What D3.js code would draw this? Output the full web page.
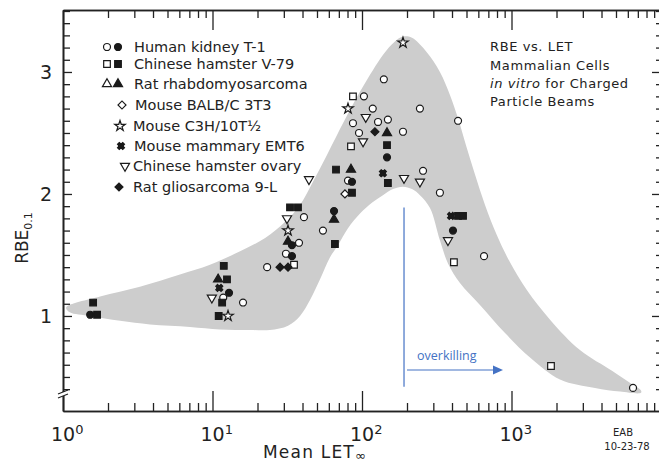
<!DOCTYPE html>
<html>
<head>
<meta charset="utf-8">
<script src="https://cdn.jsdelivr.net/npm/d3@7"></script>
<style>
  body { margin: 0; background: #fff; }
  svg { display: block; font-family: "DejaVu Sans", sans-serif; }
</style>
</head>
<body>
<script>
const W = 659;
const H = 463;
const Lpad = 63;
const Rpad = 661;
const Tpad = 10;
const Bpad = 411;

// shaded envelope, LET vs RBE
const bandUpper = [[1.05,1.07],[1.77,1.16],[3.27,1.24],[6.06,1.34],[9.62,1.42],[15.3,1.53],[22.5,1.64],[30.5,1.77],[38.5,1.91],[47,2.10],[58.3,2.32],[76.9,2.61],[101.6,2.88],[138,3.14],[166,3.25],[188,3.29],[216,3.28],[272,3.16],[332,3.0],[388,2.81],[439,2.62],[496,2.40],[570,2.16],[665,1.91],[800,1.66],[977,1.44],[1270,1.21],[1811,0.97],[2870,0.72],[4700,0.55],[6400,0.44],[7350,0.39]];
const bandLower = [[7350,0.37],[5320,0.38],[3620,0.41],[2110,0.48],[1330,0.66],[905,0.86],[615,1.09],[452,1.27],[376,1.43],[332,1.62],[285,1.885],[244,1.99],[216,2.04],[188,2.06],[161,2.04],[138,1.99],[117,1.93],[97,1.84],[80.6,1.72],[69,1.58],[61,1.48],[52.4,1.30],[44.9,1.13],[38.5,1.0],[32,0.92],[24.2,0.885],[17.8,0.885],[11.2,0.89],[7.07,0.91],[3.82,0.93],[2.41,0.96],[1.52,1.0],[1.11,1.03]];

const kidneyOpen = [[11.8,1.15],[16.0,1.11],[40.9,1.81],[54.8,1.70],[37.9,1.60],[31.0,1.51],[23.2,1.40],[140,2.94],[103,2.80],[118,2.70],[244,2.70],[439,2.60],[87,2.58],[128,2.59],[149,2.61],[188,2.51],[95.5,2.50],[80.6,2.11],[256,2.19],[332,2.01],[655,1.49],[6500,0.41]];
const kidneyFilled = [[1.52,1.01],[12.9,1.19],[34.0,1.58],[34.0,1.49],[65,1.86],[147,2.30],[85.7,2.10],[406,1.70]];
const v79Open = [[87,2.80],[84.4,2.39],[35.1,1.42],[412,1.44],[1837,0.59]];
const v79Filled = [[1.59,1.11],[1.69,1.01],[11.9,1.41],[12.5,1.30],[11.6,1.11],[11.0,1.00],[33.0,1.89],[37.3,1.89],[67,2.20],[147,2.40],[149,2.09],[85.7,2.01],[439,1.82],[474,1.82],[65.9,1.59]];
const rhabdoFilled = [[10.9,1.30],[32.0,1.61],[147,2.50],[84.4,2.20],[65,1.79]];
const balbOpen = [[76.9,2.00]];
const c3hOpen = [[12.7,1.00],[32.0,1.70],[80.6,2.70],[188,3.24]];
const emt6 = [[11.1,1.23],[138,2.17],[394,1.82]];
const choOpen = [[9.9,1.15],[31.5,1.80],[106,2.63],[101.6,2.43],[44.2,2.12],[191,2.13],[244,2.10],[376,1.62]];
const gliosarcoma = [[28.3,1.40],[32.0,1.40],[122,2.51]];

const legendLabels = ["Human kidney T-1", "Chinese hamster V-79", "Rat rhabdomyosarcoma", "Mouse BALB/C 3T3", "Mouse C3H/10T", "Mouse mammary EMT6", "Chinese hamster ovary", "Rat gliosarcoma 9-L"];
const titleLines = ["RBE vs. LET", "Mammalian Cells", "for Charged", "Particle Beams"];

const xMajor = [1, 10, 100, 1000];
const xMinor = [2,3,4,5,6,7,8,9,20,30,40,50,60,70,80,90,200,300,400,500,600,700,800,900,2000,3000,4000,5000,6000,7000,8000,9000];
const yMajor = [1, 2, 3];
const yMinor = d3.range(4, 36).map(d => d / 10).filter(d => d % 1 !== 0);

// overkilling marker: LET of line, RBE span, arrow end LET, arrow RBE
const overkillLET = 191;
const overkillRBE = [1.89, 0.42];
const arrowEnd = 877;
const arrowRBE = 0.557;

const svg = d3.select("body")
  .append("svg")
  .attr("width", W)
  .attr("height", H);

const x = d3.scaleLog().domain([1, 1e4]).range([Lpad, Rpad]);
const y = d3.scaleLinear().domain([0.221, 3.508]).range([Bpad, Tpad]);

const band = bandUpper.concat(bandLower);
svg.append("path")
  .datum(band)
  .attr("d", d3.line().x(d => x(d[0])).y(d => y(d[1])).curve(d3.curveCatmullRomClosed.alpha(0.5)))
  .attr("fill", "#cdcdcd")
  .attr("stroke", "none");

// axes on all four sides, ticks pointing in
function tickAxis(axis, vals, size, tr) {
  const g = svg.append("g")
    .attr("transform", tr)
    .call(axis.tickValues(vals).tickSize(size).tickSizeOuter(0).tickFormat(""));
  g.selectAll("line").attr("stroke", "#222").attr("stroke-width", 1.3);
  g.select(".domain").attr("stroke", "#222").attr("stroke-width", 1.6);
  return g;
}
tickAxis(d3.axisBottom(x), xMinor, -8, `translate(0,${Bpad})`);
tickAxis(d3.axisBottom(x), xMajor, -20, `translate(0,${Bpad})`);
tickAxis(d3.axisTop(x), xMinor, -8, `translate(0,${Tpad})`);
tickAxis(d3.axisTop(x), xMajor, -20, `translate(0,${Tpad})`);
tickAxis(d3.axisLeft(y), yMinor, -7, `translate(${Lpad},0)`);
tickAxis(d3.axisLeft(y), yMajor, -9, `translate(${Lpad},0)`);
tickAxis(d3.axisRight(y), yMinor, -5, `translate(${Rpad},0)`);
tickAxis(d3.axisRight(y), yMajor, -9, `translate(${Rpad},0)`);

// axis break
svg.append("rect").attr("x", Lpad - 2).attr("y", 392).attr("width", 4).attr("height", 4).attr("fill", "#fff");
svg.append("path")
  .attr("d", `M${Lpad-5},${394}L${Lpad+5},${390}M${Lpad-5},${398}L${Lpad+5},${394}`)
  .attr("stroke", "#222").attr("stroke-width", 1.3).attr("fill", "none");

// tick labels
const xl = svg.append("g");
xMajor.forEach((v, i) => {
  const t = xl.append("text")
    .attr("x", x(v) - 12)
    .attr("y", 441)
    .style("font-size", "19px")
    .attr("fill", "#222");
  t.append("tspan").text("10");
  t.append("tspan").attr("dy", -7).style("font-size", "13px").text(String(i));
});

svg.selectAll(".ylab")
  .data(yMajor)
  .enter()
  .append("text")
  .attr("x", 46)
  .attr("y", d => y(d) + 7)
  .attr("text-anchor", "middle")
  .style("font-size", "19px")
  .attr("fill", "#222")
  .text(d => d);

const yTitle = svg.append("text")
  .attr("transform", "translate(28,238) rotate(-90)")
  .attr("text-anchor", "middle")
  .style("font-size", "17px")
  .attr("fill", "#222");
yTitle.append("tspan").text("RBE");
yTitle.append("tspan").attr("dy", 4).style("font-size", "11px").text("0.1");

const xTitle = svg.append("text")
  .attr("x", 263)
  .attr("y", 458)
  .style("font-size", "17px")
  .style("letter-spacing", "1.2px")
  .attr("fill", "#222");
xTitle.append("tspan").text("Mean  LET");
xTitle.append("tspan").attr("dy", 2).style("font-size", "13px").text("\u221E");

svg.append("text").attr("x", 623).attr("y", 436).attr("text-anchor", "middle")
  .style("font-size", "10px").attr("fill", "#222").text("EAB");
svg.append("text").attr("x", 627).attr("y", 450).attr("text-anchor", "middle")
  .style("font-size", "10px").attr("fill", "#222").text("10-23-78");

// title block
const tb = svg.append("g").style("font-size", "13px").style("letter-spacing", "0.6px").attr("fill", "#222");
tb.append("text").attr("x", 490).attr("y", 51).text(titleLines[0]);
tb.append("text").attr("x", 490).attr("y", 70).text(titleLines[1]);
const t3 = tb.append("text").attr("x", 490).attr("y", 88);
t3.append("tspan").style("font-style", "italic").text("in vitro ");
t3.append("tspan").text(titleLines[2]);
tb.append("text").attr("x", 490).attr("y", 106).text(titleLines[3]);

// symbols
function sym(type, size, rot) {
  return {type: type, size: size, rot: rot || 0};
}
const S = {
  circle: sym(d3.symbolCircle, 38),
  square: sym(d3.symbolSquare, 44),
  tri: sym(d3.symbolTriangle, 36),
  down: sym(d3.symbolTriangle, 36, 180),
  diamond: sym(d3.symbolSquare, 32, 45),
  star: sym(d3.symbolStar, 34),
};

function drawSym(g, data, s, filled) {
  g.selectAll(null)
    .data(data)
    .enter()
    .append("path")
    .attr("transform", d => `translate(${d[0]},${d[1]}) rotate(${s.rot})`)
    .attr("d", d3.symbol().type(s.type).size(s.size))
    .attr("fill", filled ? "#1a1a1a" : "#fff")
    .attr("stroke", "#1a1a1a")
    .attr("stroke-width", 1.2);
}
function drawEmt6(g, data) {
  drawSym(g, data, sym(d3.symbolSquare, 22), true);
  drawSym(g, data, sym(d3.symbolCross, 30, 45), true);
}

const pts = svg.append("g");
const px = arr => arr.map(d => [x(d[0]), y(d[1])]);
drawSym(pts, px(kidneyOpen), S.circle, false);
drawSym(pts, px(kidneyFilled), S.circle, true);
drawSym(pts, px(v79Open), S.square, false);
drawSym(pts, px(v79Filled), S.square, true);
drawSym(pts, px(rhabdoFilled), S.tri, true);
drawSym(pts, px(balbOpen), S.diamond, false);
drawSym(pts, px(c3hOpen), S.star, false);
drawEmt6(pts, px(emt6));
drawSym(pts, px(choOpen), S.down, false);
drawSym(pts, px(gliosarcoma), S.diamond, true);

// legend
const lg = svg.append("g");
const rowY = [47, 64, 84, 105, 126, 146, 166, 187];
drawSym(lg, [[107, rowY[0]]], S.circle, false);
drawSym(lg, [[118, rowY[0]]], S.circle, true);
drawSym(lg, [[107, rowY[1]]], S.square, false);
drawSym(lg, [[118, rowY[1]]], S.square, true);
drawSym(lg, [[107, rowY[2]]], S.tri, false);
drawSym(lg, [[118, rowY[2]]], S.tri, true);
drawSym(lg, [[122, rowY[3]]], S.diamond, false);
drawSym(lg, [[120, rowY[4]]], S.star, false);
drawEmt6(lg, [[121, rowY[5]]]);
drawSym(lg, [[125, rowY[6]]], S.down, false);
drawSym(lg, [[119, rowY[7]]], S.diamond, true);

const textX = [134, 134, 134, 135, 133, 134, 133, 133];
lg.selectAll(".lt")
  .data(legendLabels)
  .enter()
  .append("text")
  .attr("x", (d, i) => textX[i])
  .attr("y", (d, i) => rowY[i] + 5)
  .style("font-size", "14.5px")
  .attr("fill", "#222")
  .text(d => d)
  .filter((d, i) => i === 4)
  .append("tspan")
  .text("\u00BD");

// overkilling annotation
const blue = "#4472c4";
svg.append("line")
  .attr("x1", x(overkillLET)).attr("x2", x(overkillLET))
  .attr("y1", y(overkillRBE[0])).attr("y2", y(overkillRBE[1]))
  .attr("stroke", blue).attr("stroke-width", 1.2);
svg.append("line")
  .attr("x1", x(overkillLET) + 3).attr("x2", x(arrowEnd) - 8)
  .attr("y1", y(arrowRBE)).attr("y2", y(arrowRBE))
  .attr("stroke", blue).attr("stroke-width", 1.2);
svg.append("path")
  .attr("d", `M${x(arrowEnd)},${y(arrowRBE)}l-10,-4.5v9z`)
  .attr("fill", blue);
svg.append("text")
  .attr("x", x(overkillLET) + 13)
  .attr("y", y(arrowRBE) - 10)
  .style("font-family", "'Open Sans', sans-serif")
  .style("font-size", "12.5px")
  .attr("fill", blue)
  .text("overkilling");
</script>
</body>
</html>
